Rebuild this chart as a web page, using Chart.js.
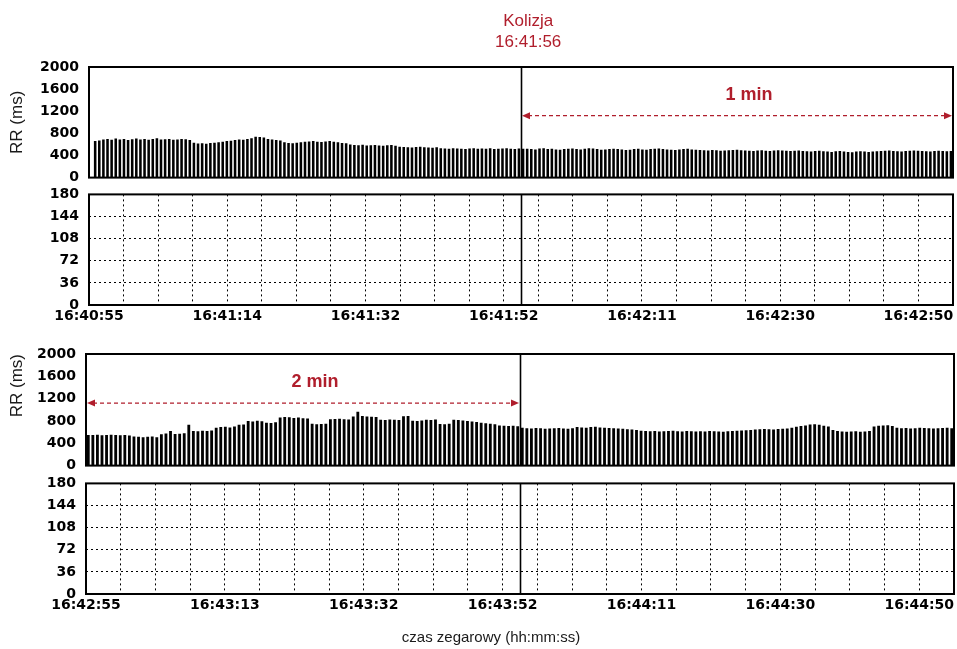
<!DOCTYPE html>
<html lang="pl">
<head>
<meta charset="utf-8">
<title>RR - kolizja 16:41:56</title>
<script src="https://cdn.jsdelivr.net/npm/chart.js@4.4.1/dist/chart.umd.min.js"></script>
<style>
  html, body { margin: 0; padding: 0; background: #fff; }
  #plansza { position: relative; width: 957px; height: 649px; overflow: hidden; }
  #plansza canvas { position: absolute; left: 0; }
</style>
</head>
<body>
<div id="plansza">
  <canvas id="rrGora" width="957" height="196" style="top:0"></canvas>
  <canvas id="siatkaGora" width="957" height="154" style="top:176px"></canvas>
  <canvas id="rrDol" width="957" height="154" style="top:330px"></canvas>
  <canvas id="siatkaDol" width="957" height="184" style="top:465px"></canvas>
</div>
<script>
// Odstępy RR [ms], panel 16:40:55 - 16:42:55
const rrPrzed = [
  null, 660,
  670, 690, 700, 685, 705, 690, 700, 680, 695, 705, 690, 700, 685, 700, 710, 690, 695, 700, 685, 690, 700, 695, 680,
  630, 615, 620, 610, 625, 630, 640, 650, 660, 665,
  680, 690, 685, 700, 710,
  740, 735, 725,
  700, 690, 680, 670,
  640, 625, 620, 630, 640,
  650, 655, 660, 650, 645, 655, 660, 650, 640,
  625, 620,
  600, 590, 585, 595, 580, 585, 590, 580, 575, 585, 590, 575,
  560, 555, 550, 545, 555, 560, 550, 545, 540, 550,
  530, 525, 520, 530, 525, 520, 515, 525, 530, 520,
  525, 520, 530, 515, 520, 525, 530, 520, 515, 525, 520,
  520, 515, 510, 525, 530, 515, 520, 510, 505, 515, 520, 525, 515, 510, 520, 530, 525, 515, 505, 510, 515, 520,
  515, 510, 500, 505, 515, 520, 510, 505, 515, 520, 525, 515, 510, 505, 500, 510, 515, 520, 510, 505, 500,
  495, 490, 500, 495, 485, 490, 495, 500, 505, 495, 490, 485, 480, 490, 495, 485, 480, 490, 495, 490, 485, 480, 485, 490,
  480, 475, 470, 480, 485, 475, 470, 465, 475, 480, 470, 465, 460, 470, 475, 470, 465,
  470, 475, 480, 485, 490, 480, 475, 470, 480, 485, 490, 485, 480, 475, 470, 480, 485, 480, 475, 480
];

// Odstępy RR [ms], panel 16:42:55 - 16:44:55
const rrPo = [
  550,
  550, 555, 545, 550, 555, 550, 545, 550, 540,
  520, 515, 510, 515, 520, 510,
  560, 575, 620, 565, 570, 580,
  730,
  620, 615, 625, 620, 630,
  680, 690, 695, 685, 700,
  730, 735,
  800, 790, 805, 795,
  770, 765, 775,
  860, 870, 865, 855, 860,
  850, 845,
  750, 740, 745, 750,
  830, 835, 840, 830, 825,
  880, 965,
  890, 880, 875, 870,
  820, 815, 825, 820, 815,
  885, 890,
  805, 800, 810,
  820, 815, 825,
  745, 740, 750,
  820, 815, 810, 800,
  790, 780, 770, 760, 750, 740,
  720, 715, 710, 715, 705,
  680, 670, 665, 675, 670, 660, 665, 670, 675, 665, 660, 670,
  690, 685, 680, 690, 695, 685, 680, 675, 670, 665, 660, 650, 645, 640,
  625, 620, 615, 620, 610, 615, 620, 625, 615, 610, 620, 615, 610,
  615, 610, 620, 615, 610, 605, 615, 620, 625, 630, 635, 640, 645,
  650, 655, 650, 645, 655, 660, 665, 680, 695,
  710, 720, 735, 740, 730, 715, 700,
  640, 620, 610, 605, 610, 615, 605, 610, 620,
  700, 715, 720, 725, 710,
  680, 670, 675, 665, 670, 680, 675, 670, 665, 670, 675, 680, 670
];

// Etykiety osi czasu (co 4 linie siatki)
const czasGora = ['16:40:55', '16:41:14', '16:41:32', '16:41:52', '16:42:11', '16:42:30', '16:42:50'];
const czasDol = ['16:42:55', '16:43:13', '16:43:32', '16:43:52', '16:44:11', '16:44:30', '16:44:50'];

const okno = 120;        // długość panelu [s]
const krokSiatki = 4.8;  // odstęp linii siatki [s]
const granica = 60;      // pełna minuta w panelu [s]
const kolizja = { sek: 61, opis: ['Kolizja', '16:41:56'] };
const strzalkaGora = { od: 60, do: 120, napis: '1 min' };
const strzalkaDol = { od: 0, do: 60, napis: '2 min' };
const poziomStrzalki = 1120;  // RR [ms]
const poziomNapisu = 1500;

const CZERWONY = '#b01e2c';
const fontOsi = { family: "'DejaVu Sans', sans-serif", size: 14, weight: 'bold' };
const fontTekstu = "'Liberation Sans', Arial, sans-serif";

// Ramka, linia minuty, strzałki i opis kolizji
const adnotacje = {
  id: 'adnotacje',
  afterDatasetsDraw(chart, args, opt) {
    const { ctx, chartArea: a } = chart;
    const os = chart.scales.czas;
    ctx.save();

    const xg = Math.round(os.getPixelForValue(granica)) + 0.5;
    ctx.strokeStyle = '#000';
    ctx.lineWidth = 1.6;
    ctx.beginPath();
    ctx.moveTo(xg, a.top);
    ctx.lineTo(xg, a.bottom);
    ctx.stroke();

    ctx.lineWidth = 2;
    ctx.strokeRect(a.left, a.top, a.right - a.left, a.bottom - a.top);

    if (opt.strzalka) {
      const s = opt.strzalka;
      const y = chart.scales.y.getPixelForValue(poziomStrzalki);
      const x1 = os.getPixelForValue(s.od);
      const x2 = os.getPixelForValue(s.do);
      ctx.strokeStyle = CZERWONY;
      ctx.fillStyle = CZERWONY;
      ctx.lineWidth = 1.3;
      ctx.setLineDash([4, 3]);
      ctx.beginPath();
      ctx.moveTo(x1 + 7, y);
      ctx.lineTo(x2 - 7, y);
      ctx.stroke();
      ctx.setLineDash([]);
      [[x1 + 1, 1], [x2 - 1, -1]].forEach(([x, k]) => {
        ctx.beginPath();
        ctx.moveTo(x, y);
        ctx.lineTo(x + 8 * k, y - 3.5);
        ctx.lineTo(x + 8 * k, y + 3.5);
        ctx.closePath();
        ctx.fill();
      });
      ctx.font = 'bold 18px ' + fontTekstu;
      ctx.textAlign = 'center';
      ctx.textBaseline = 'middle';
      ctx.fillText(s.napis, (x1 + x2) / 2 + 12, chart.scales.y.getPixelForValue(poziomNapisu));
    }

    if (opt.kolizja) {
      const xk = os.getPixelForValue(opt.kolizja.sek);
      ctx.fillStyle = CZERWONY;
      ctx.font = '17px ' + fontTekstu;
      ctx.textAlign = 'center';
      ctx.textBaseline = 'middle';
      ctx.fillText(opt.kolizja.opis[0], xk, a.top - 46);
      ctx.fillText(opt.kolizja.opis[1], xk, a.top - 25);
    }
    ctx.restore();
  }
};

// Panel z odstępami RR
function wykresRR(id, rr, o) {
  return new Chart(document.getElementById(id), {
    type: 'bar',
    data: {
      labels: rr.map((_, i) => i),
      datasets: [{
        data: rr,
        xAxisID: 'x',
        yAxisID: 'y',
        backgroundColor: '#000',
        barPercentage: 0.62,
        categoryPercentage: 1
      }]
    },
    options: {
      responsive: false,
      animation: false,
      events: [],
      layout: { padding: o.padding },
      plugins: {
        legend: { display: false },
        tooltip: { enabled: false },
        adnotacje: o.adnotacje
      },
      scales: {
        x: { display: false },
        czas: { type: 'linear', axis: 'x', position: 'bottom', display: false, offset: false, min: 0, max: okno },
        y: {
          min: 0,
          max: 2000,
          afterFit: s => { s.width = o.lewy; },
          border: { display: false },
          grid: { display: false, drawTicks: false },
          ticks: { stepSize: 400, padding: 10, color: '#000', font: fontOsi, callback: v => String(v) },
          title: {
            display: true,
            text: 'RR (ms)',
            align: o.wyrownanie,
            color: '#1a1a1a',
            font: { family: fontTekstu, size: 17, weight: 'normal' },
            padding: { top: 7, bottom: 0 }
          }
        }
      }
    },
    plugins: [adnotacje]
  });
}

// Pusty panel z kropkowaną siatką 0-180
function wykresSiatka(id, etykiety, o) {
  return new Chart(document.getElementById(id), {
    type: 'scatter',
    data: { datasets: [] },
    options: {
      responsive: false,
      animation: false,
      events: [],
      layout: { padding: o.padding },
      plugins: {
        legend: { display: false },
        tooltip: { enabled: false },
        title: o.tytul || { display: false },
        adnotacje: {}
      },
      scales: {
        czas: {
          type: 'linear',
          axis: 'x',
          position: 'bottom',
          offset: false,
          min: 0,
          max: okno,
          afterFit: s => { s.height = o.wysOsi; },
          border: { display: false, dash: [2, 3] },
          grid: { color: '#000', lineWidth: 1, drawTicks: false },
          ticks: {
            stepSize: krokSiatki,
            autoSkip: false,
            maxRotation: 0,
            minRotation: 0,
            padding: 3,
            color: '#000',
            font: fontOsi,
            callback: (v, i) => (i % 4 === 0 ? etykiety[i / 4] : '')
          }
        },
        y: {
          min: 0,
          max: 180,
          afterFit: s => { s.width = o.lewy; },
          border: { display: false, dash: [2, 3] },
          grid: { color: '#000', lineWidth: 1, drawTicks: false },
          ticks: { stepSize: 36, padding: 10, color: '#000', font: fontOsi }
        }
      }
    },
    plugins: [adnotacje]
  });
}

wykresRR('rrGora', rrPrzed, {
  padding: { top: 67, right: 4, bottom: 0, left: 0 },
  lewy: 89,
  wyrownanie: 'center',
  adnotacje: { strzalka: strzalkaGora, kolizja: kolizja }
});

wykresSiatka('siatkaGora', czasGora, {
  padding: { top: 0, right: 4, bottom: 5, left: 0 },
  lewy: 89,
  wysOsi: 20
});

wykresRR('rrDol', rrPo, {
  padding: { top: 24, right: 3, bottom: 0, left: 0 },
  lewy: 86,
  wyrownanie: 'end',
  adnotacje: { strzalka: strzalkaDol }
});

// lewy margines przesuwa podpis osi czasu w prawo, obszar wykresu bez zmian
wykresSiatka('siatkaDol', czasDol, {
  padding: { top: 0, right: 3, bottom: 0, left: 28 },
  lewy: 58,
  wysOsi: 31,
  tytul: {
    display: true,
    position: 'bottom',
    text: 'czas zegarowy (hh:mm:ss)',
    color: '#1a1a1a',
    font: { family: fontTekstu, size: 15, weight: 'normal' },
    padding: { top: 4, bottom: 2 }
  }
});
</script>
</body>
</html>
